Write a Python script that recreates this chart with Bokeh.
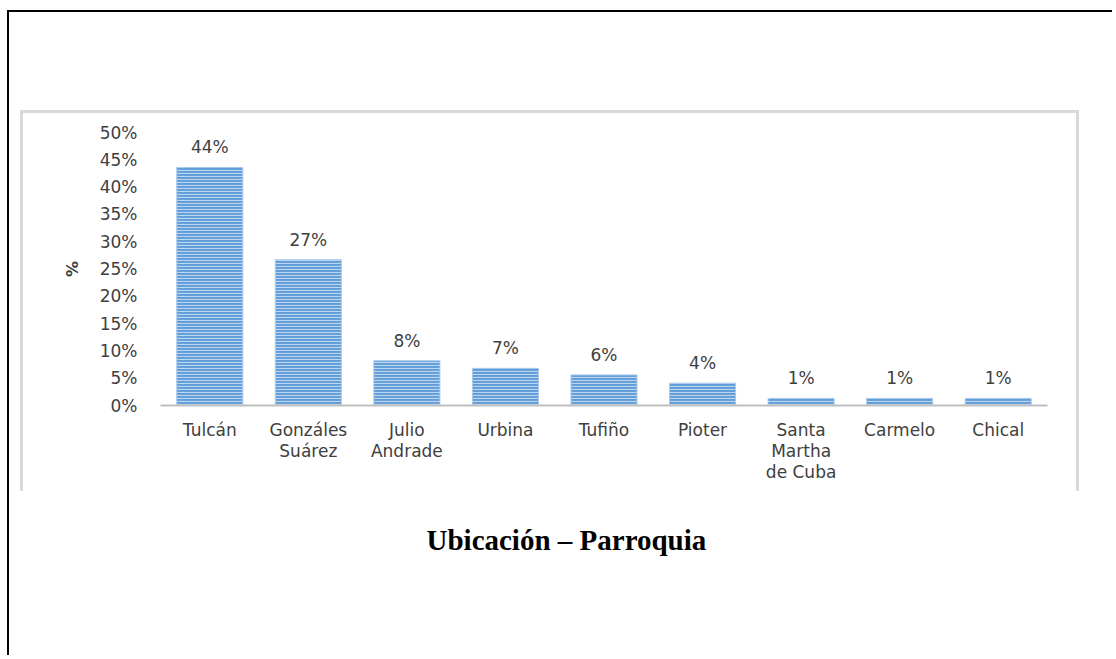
from bokeh.plotting import figure
from bokeh.models import (FactorRange, Range1d, FixedTicker, NumeralTickFormatter,
                          ColumnDataSource, LabelSet, Title, InlineStyleSheet)
from bokeh.core.properties import value
from bokeh.embed import file_html
from bokeh.resources import INLINE

# ---- data ----
parroquias = ["Tulcán", "Gonzáles\nSuárez", "Julio\nAndrade", "Urbina", "Tufiño",
              "Pioter", "Santa\nMartha\nde Cuba", "Carmelo", "Chical"]
porcentajes = [0.436, 0.267, 0.082, 0.068, 0.056, 0.041, 0.013, 0.013, 0.013]
y_ticks = [0.0, 0.05, 0.10, 0.15, 0.20, 0.25, 0.30, 0.35, 0.40, 0.45, 0.50]
titulo = "Ubicación – Parroquia"
eje_y = "%"

etiquetas = [f"{v * 100:.0f}%" for v in porcentajes]
src = ColumnDataSource(dict(x=parroquias, y=porcentajes, lab=etiquetas))

FONT = "DejaVu Sans"
TXT = "#404040"

# page frame (black) and chart-area border (light grey) drawn with CSS
frame_css = InlineStyleSheet(css="""
:host { position: relative !important; }
:host::before {
  content: ""; position: absolute; z-index: 10; pointer-events: none;
  left: 7px; top: 10px; right: -4px; bottom: -4px;
  border-left: 2px solid #000; border-top: 2px solid #000;
}
:host::after {
  content: ""; position: absolute; z-index: 10; pointer-events: none;
  box-sizing: border-box;
  left: 20px; top: 110px; width: 1059px; height: 381px;
  border: 3px solid #d9d9d9; border-bottom: none;
}
""")

p = figure(width=1108, height=651, output_backend="svg", toolbar_location=None,
           x_range=FactorRange(*parroquias, range_padding=0), y_range=Range1d(0, 0.5),
           min_border_left=160, min_border_right=61, min_border_top=132,
           min_border_bottom=246, stylesheets=[frame_css])
p.outline_line_color = None
p.background_fill_color = "white"
p.border_fill_color = "white"
p.xgrid.visible = False
p.ygrid.visible = False

p.vbar(x="x", top="y", width=0.67, source=src, fill_color="#609cd8",
       line_color="#a9c9ec", line_width=1,
       hatch_pattern="horizontal_line", hatch_color="#d4e5f6", hatch_alpha=0.8,
       hatch_scale=3, hatch_weight=1.2)

p.add_layout(LabelSet(x="x", y="y", text="lab", source=src, y_offset=10,
                      text_align="center", text_baseline="bottom",
                      text_font=value(FONT), text_font_size="17px", text_color=TXT))

# axes
p.yaxis.ticker = FixedTicker(ticks=y_ticks)
p.yaxis.formatter = NumeralTickFormatter(format="0%")
p.yaxis.axis_line_color = None
p.yaxis.major_tick_line_color = None
p.yaxis.minor_tick_line_color = None
p.yaxis.major_tick_out = 0
p.yaxis.major_tick_in = 0
p.yaxis.minor_tick_out = 0
p.yaxis.major_label_standoff = 23
p.yaxis.major_label_text_font = FONT
p.yaxis.major_label_text_font_size = "17px"
p.yaxis.major_label_text_color = TXT
p.yaxis.axis_label = eje_y
p.yaxis.axis_label_text_font = FONT
p.yaxis.axis_label_text_font_size = "16px"
p.yaxis.axis_label_text_font_style = "bold"
p.yaxis.axis_label_text_color = TXT
p.yaxis.axis_label_standoff = 15

p.xaxis.axis_line_color = "#bfbfbf"
p.xaxis.axis_line_width = 2
p.xaxis.major_tick_line_color = None
p.xaxis.minor_tick_line_color = None
p.xaxis.major_tick_out = 0
p.xaxis.major_tick_in = 0
p.xaxis.major_label_standoff = 14
p.xaxis.major_label_text_font = FONT
p.xaxis.major_label_text_font_size = "17px"
p.xaxis.major_label_text_color = TXT
p.xaxis.major_label_text_line_height = 1.05

p.add_layout(Title(text=titulo, align="left", offset=266, standoff=75,
                   text_font="Liberation Serif", text_font_style="bold",
                   text_font_size="29px", text_color="black"), "below")

open("out.html", "w").write(file_html(p, INLINE))
